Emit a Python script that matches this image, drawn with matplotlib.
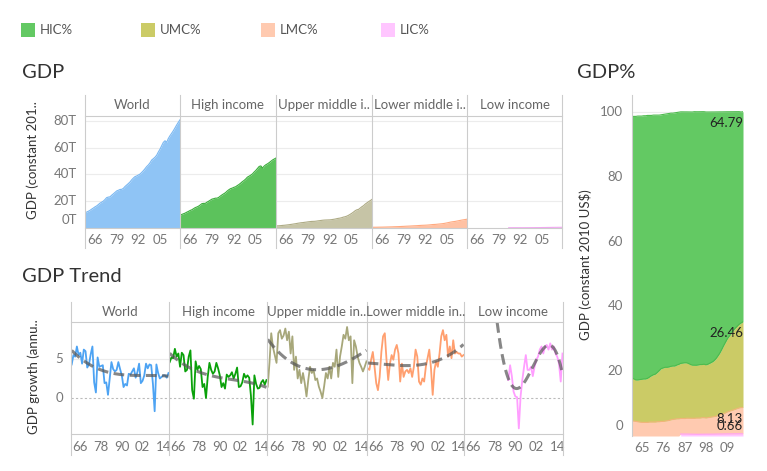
import numpy as np
import matplotlib
matplotlib.use('Agg')
import matplotlib.pyplot as plt
from matplotlib.lines import Line2D
from matplotlib.patches import Rectangle

plt.rcParams['font.family'] = ['Lato', 'DejaVu Sans']

W, H = 767, 471

# ---------------- data ----------------
years = np.arange(1960, 2018)
growth_years = np.arange(1961, 2018)
lic_growth_years = np.arange(1986, 2018)

top_headers = ['World', 'High income', 'Upper middle i..', 'Lower middle i..', 'Low income']
trend_headers = ['World', 'High income', 'Upper middle in..', 'Lower middle in..', 'Low income']

# GDP, constant 2010 US$, trillions (1960-2017)
world_gdp = [11.4, 11.9, 12.5, 13.2, 14.1, 14.9, 15.8, 16.5, 17.5, 18.6,
             19.3, 20.1, 21.3, 22.7, 23.1, 23.3, 24.5, 25.5, 26.6, 27.7,
             28.2, 28.8, 28.9, 29.6, 31.0, 32.1, 33.2, 34.4, 36.0, 37.3,
             38.4, 38.9, 39.6, 40.3, 41.5, 42.8, 44.3, 45.9, 47.1, 48.7,
             50.8, 51.8, 52.9, 54.4, 56.8, 58.9, 61.5, 64.0, 65.2, 64.1,
             66.9, 69.0, 70.8, 72.7, 74.8, 77.0, 79.0, 80.9]
hic_gdp = [9.7, 10.1, 10.6, 11.1, 11.8, 12.4, 13.1, 13.6, 14.4, 15.2,
           15.7, 16.3, 17.2, 18.2, 18.4, 18.4, 19.3, 20.0, 20.8, 21.6,
           21.9, 22.3, 22.3, 22.9, 23.9, 24.8, 25.6, 26.4, 27.6, 28.6,
           29.4, 29.8, 30.4, 30.8, 31.7, 32.5, 33.5, 34.6, 35.5, 36.6,
           38.0, 38.7, 39.5, 40.4, 41.8, 43.0, 44.5, 46.0, 46.4, 44.8,
           46.3, 47.3, 48.0, 48.9, 49.9, 50.9, 51.6, 52.3]
umc_gdp = [1.6, 1.6, 1.7, 1.8, 1.95, 2.05, 2.2, 2.35, 2.5, 2.7,
           2.9, 3.1, 3.3, 3.55, 3.75, 3.95, 4.05, 4.25, 4.4, 4.6,
           4.75, 4.9, 4.95, 5.0, 5.15, 5.35, 5.5, 5.7, 5.85, 5.95,
           6.0, 6.05, 6.1, 6.25, 6.45, 6.65, 6.95, 7.2, 7.4, 7.7,
           8.15, 8.4, 8.85, 9.45, 10.2, 11.0, 11.9, 12.9, 13.6, 13.9,
           14.9, 15.9, 16.7, 17.9, 18.8, 19.7, 20.5, 21.4]
lmc_gdp = [0.54, 0.55, 0.57, 0.59, 0.62, 0.64, 0.66, 0.69, 0.72, 0.76,
           0.80, 0.83, 0.86, 0.92, 0.96, 1.00, 1.05, 1.10, 1.17, 1.22,
           1.30, 1.36, 1.42, 1.48, 1.55, 1.62, 1.68, 1.74, 1.84, 1.92,
           2.00, 2.04, 2.10, 2.17, 2.27, 2.38, 2.52, 2.63, 2.69, 2.80,
           2.94, 3.06, 3.19, 3.36, 3.58, 3.83, 4.10, 4.38, 4.60, 4.77,
           4.95, 5.20, 5.45, 5.70, 5.95, 6.15, 6.35, 6.58]
# low income: no data before 1985
lic_gdp = [np.nan] * 25 + [
           0.20, 0.21, 0.21, 0.22, 0.22, 0.22, 0.22, 0.22, 0.21, 0.22,
           0.22, 0.23, 0.24, 0.25, 0.26, 0.27, 0.28, 0.29, 0.30, 0.32,
           0.34, 0.36, 0.38, 0.40, 0.42, 0.44, 0.46, 0.47, 0.49, 0.50,
           0.51, 0.52, 0.53]

# GDP growth (annual %)
world_growth = [4.3, 5.5, 5.3, 6.6, 5.5, 5.8, 4.4, 6.2, 6.0, 3.9,
                4.3, 5.6, 6.6, 2.0, 0.7, 5.2, 4.0, 4.1, 4.2, 1.9,
                2.0, 0.4, 2.5, 4.6, 3.7, 3.4, 3.6, 4.6, 3.7, 2.9,
                1.4, 1.8, 1.6, 3.1, 3.0, 3.4, 3.8, 2.6, 3.3, 4.4,
                1.9, 2.2, 2.9, 4.4, 3.8, 4.3, 4.2, 1.8, -1.7, 4.3,
                3.2, 2.5, 2.7, 2.9, 2.9, 2.6, 3.2]
hic_growth = [4.6, 5.2, 5.1, 6.3, 5.3, 5.7, 4.0, 5.8, 5.5, 3.4,
              3.6, 5.3, 6.1, 1.0, -0.1, 4.7, 3.6, 4.1, 3.7, 1.4,
              1.8, 0.0, 2.7, 4.5, 3.6, 3.1, 3.4, 4.5, 3.8, 2.9,
              1.4, 1.9, 1.2, 3.0, 2.7, 2.9, 3.3, 2.5, 3.1, 3.9,
              1.4, 1.5, 2.0, 3.1, 2.6, 2.9, 2.6, 0.3, -3.4, 2.9,
              1.8, 1.2, 1.3, 2.0, 2.3, 1.7, 2.3]
umc_growth = [1.45, 4.5, 8.3, 6.5, 5.5, 4.5, 8.3, 8.7, 7.6, 8.0,
              8.9, 7.4, 8.5, 5.7, 7.9, 3.6, 5.3, 2.5, 3.6, 1.9,
              3.2, 1.9, 0.2, 2.3, 4.0, 3.2, 3.6, 2.3, 2.5, 1.45,
              0.8, 0.0, 1.5, 3.2, 2.5, 4.0, 2.5, 4.5, 4.0, 6.2,
              2.7, 5.3, 6.6, 8.1, 7.6, 9.1, 7.4, 7.9, 1.9, 7.4,
              6.6, 5.3, 4.5, 4.0, 3.4, 4.0, 4.7]
lmc_growth = [3.8, 3.6, 4.9, 5.9, 4.0, 1.9, 1.0, 2.7, 5.9, 7.9,
              8.3, 4.9, 2.3, 4.4, 5.5, 4.9, 6.2, 6.8, 5.7, 2.1,
              4.4, 2.7, 3.4, 3.6, 3.2, 3.8, 2.7, 4.0, 6.2, 5.3,
              2.1, 1.7, 2.5, 2.1, 4.0, 5.1, 6.2, 3.8, 0.4, 3.6,
              4.7, 4.0, 5.7, 7.9, 8.7, 7.4, 8.1, 5.3, 6.6, 5.1,
              7.4, 5.7, 5.9, 5.7, 5.7, 5.3, 5.5]
lic_growth = [2.3, 4.2, 2.8, 0.8, 0.2, 0.1, -3.9, 0.2, 2.3, 4.0,
              5.5, 3.6, 3.6, 4.0, 2.8, 4.0, 4.9, 5.3, 6.2, 6.6,
              5.7, 6.6, 6.8, 6.2, 7.0, 6.2, 6.6, 5.7, 5.3, 4.4,
              2.1, 5.7]

# share of total GDP (%), 1960-2017
hic_share = [80.7, 81.0, 81.3, 81.4, 81.3, 81.2, 81.2, 81.2, 81.1, 80.7,
             80.3, 80.1, 79.9, 79.4, 78.8, 78.3, 78.2, 78.1, 78.2, 78.2,
             78.1, 78.0, 78.1, 77.9, 77.8, 77.6, 77.5, 77.4, 77.4, 77.6,
             77.9, 78.1, 78.2, 78.2, 78.1, 78.0, 78.0, 77.9, 78.0, 77.8,
             77.5, 77.2, 76.8, 76.2, 75.4, 74.5, 73.4, 72.2, 71.1, 70.0,
             69.2, 68.3, 67.5, 66.8, 66.2, 65.6, 65.1, 64.79]
umc_share = [13.2, 13.0, 12.8, 12.9, 13.1, 13.3, 13.4, 13.4, 13.6, 13.9,
             14.3, 14.6, 14.8, 15.2, 15.8, 16.3, 16.5, 16.6, 16.5, 16.5,
             16.5, 16.5, 16.4, 16.6, 16.8, 17.0, 17.1, 17.2, 17.1, 16.9,
             16.6, 16.4, 16.4, 16.3, 16.4, 16.5, 16.4, 16.5, 16.4, 16.5,
             16.7, 16.9, 17.2, 17.7, 18.3, 19.0, 19.9, 20.9, 21.8, 22.6,
             23.2, 23.9, 24.5, 25.0, 25.4, 25.8, 26.1, 26.46]
lmc_share = [4.7, 4.6, 4.5, 4.4, 4.3, 4.2, 4.2, 4.2, 4.2, 4.3,
             4.3, 4.3, 4.3, 4.4, 4.4, 4.5, 4.5, 4.6, 4.7, 4.8,
             5.0, 5.1, 5.2, 5.3, 5.3, 4.8, 4.8, 4.8, 4.9, 4.9,
             4.9, 4.9, 4.9, 5.0, 5.0, 5.0, 5.1, 5.1, 5.0, 5.1,
             5.2, 5.3, 5.4, 5.5, 5.7, 5.9, 6.1, 6.3, 6.5, 6.8,
             7.0, 7.2, 7.4, 7.6, 7.8, 8.0, 8.1, 8.13]
lic_share = [np.nan] * 25 + [
             0.60, 0.60, 0.59, 0.59, 0.58, 0.57, 0.56, 0.55, 0.53, 0.53,
             0.54, 0.55, 0.55, 0.56, 0.56, 0.56, 0.57, 0.57, 0.58, 0.59,
             0.60, 0.60, 0.61, 0.62, 0.63, 0.63, 0.64, 0.64, 0.65, 0.65,
             0.66, 0.66, 0.66]

share_names = ['HIC%', 'UMC%', 'LMC%', 'LIC%']
share_colors = ['#63c963', '#cbcb66', '#ffcab0', '#ffc6ff']

area_fill = ['#8fc4f5', '#5cc25c', '#c6c4a6', '#ffc1a3', '#f9c6f9']
area_edge = ['#7ab8f2', '#3cae3c', '#aeab85', '#ffaa80', '#f2a6f2']
trend_colors = ['#4da3f3', '#0aa10a', '#a7a77a', '#ff9f6f', '#ff9eff']

LINE = '#cccccc'
TICK = '#777777'
HEAD = '#666666'


# ---------------- helpers ----------------
def rect(x0, y0, x1, y1):
    return [x0 / W, 1 - y1 / H, (x1 - x0) / W, (y1 - y0) / H]


def fline(xs, ys, **kw):
    fig.add_artist(Line2D([x / W for x in xs], [1 - y / H for y in ys],
                          transform=fig.transFigure, **kw))


def ftext(x, y, s, **kw):
    fig.text(x / W, 1 - y / H, s, **kw)


def clean(ax):
    for s in ax.spines.values():
        s.set_visible(False)
    ax.set_facecolor('none')
    ax.set_yticks([])
    ax.tick_params(axis='both', length=0)


def ylabels(ax, vals, labels, dx, zero_shift=0):
    for v, l in zip(vals, labels):
        dy = zero_shift if v == 0 else 0
        ax.annotate(l, xy=(0, v), xycoords=('axes fraction', 'data'),
                    xytext=(-dx * 0.72, dy * 0.72), textcoords='offset points',
                    ha='right', va='center', fontsize=9.5, color=TICK,
                    annotation_clip=False)


fig = plt.figure(figsize=(W / 100, H / 100), dpi=100)

# ---------------- legend ----------------
for i, (name, c) in enumerate(zip(share_names, share_colors)):
    x = 21 + 120 * i
    fig.add_artist(Rectangle((x / W, 1 - 37 / H), 14 / W, 14 / H,
                             transform=fig.transFigure, color=c, lw=0))
    ftext(x + 19, 30, name, fontsize=9.5, color='#555555', va='center')

# ---------------- GDP (top) ----------------
ftext(22, 72, 'GDP', fontsize=14.5, color='#333333', va='center')
ftext(33, 160, 'GDP (constant 201..', fontsize=9.5, color='#333333',
      rotation=90, ha='center', va='center')

top_x = [85, 180, 276, 372, 467, 562]
gdp_series = [world_gdp, hic_gdp, umc_gdp, lmc_gdp, lic_gdp]
for i, vals in enumerate(gdp_series):
    ax = fig.add_axes(rect(top_x[i], 116, top_x[i + 1], 228))
    clean(ax)
    vals = np.array(vals, dtype=float)
    for g in [20, 40, 60, 80]:
        ax.axhline(g, color='#ececec', lw=0.8, zorder=0)
    ax.fill_between(years, vals, color=area_fill[i], lw=0)
    ax.plot(years, vals, color=area_edge[i], lw=0.8)
    ax.set_xlim(1960, 2017)
    ax.set_ylim(0, 83.7)
    ax.set_xticks([1966, 1979, 1992, 2005], ['66', '79', '92', '05'])
    ax.tick_params(axis='x', labelsize=9.5, labelcolor=TICK, pad=4)
    if i == 0:
        ylabels(ax, [0, 20, 40, 60, 80], ['0T', '20T', '40T', '60T', '80T'], 8, zero_shift=8)
    ftext((top_x[i] + top_x[i + 1]) / 2, 105, top_headers[i], fontsize=9.5,
          color=HEAD, ha='center', va='center')

for x in top_x:
    fline([x, x], [95, 248], color=LINE, lw=0.8)
fline([85, 562], [116, 116], color=LINE, lw=0.8)
fline([85, 562], [228, 228], color=LINE, lw=0.8)

# ---------------- GDP Trend ----------------
ftext(22, 277, 'GDP Trend', fontsize=14.5, color='#333333', va='center')
ftext(34, 377, 'GDP growth (annu..', fontsize=9.5, color='#333333',
      rotation=90, ha='center', va='center')

trend_x = [71, 169, 267, 367, 464, 563]
growth_series = [(growth_years, world_growth), (growth_years, hic_growth),
                 (growth_years, umc_growth), (growth_years, lmc_growth),
                 (lic_growth_years, lic_growth)]
for i, (yrs, vals) in enumerate(growth_series):
    ax = fig.add_axes(rect(trend_x[i], 322, trend_x[i + 1], 434))
    clean(ax)
    vals = np.array(vals, dtype=float)
    ax.axhline(5, color='#ececec', lw=0.8, zorder=0)
    ax.axhline(0, color='#bbbbbb', lw=0.8, ls=(0, (2, 2)), zorder=0)
    ax.plot(yrs, vals, color=trend_colors[i], lw=1.3)
    # polynomial trend line
    coef = np.polyfit(yrs - 1990, vals, 3)
    xt = np.linspace(1975 if i == 4 else 1961, 2017, 200)
    ax.plot(xt, np.polyval(coef, xt - 1990), color='#555555', alpha=0.7,
            lw=2.2, ls=(0, (3.5, 1.8)), dash_capstyle='butt')
    ax.set_xlim(1960.6, 2017.3)
    ax.set_ylim(-4.62, 9.74)
    ax.set_xticks([1966, 1978, 1990, 2002, 2014], ['66', '78', '90', '02', '14'])
    ax.tick_params(axis='x', labelsize=9.5, labelcolor=TICK, pad=5)
    if i == 0:
        ylabels(ax, [0, 5], ['0', '5'], 8)
    ftext((trend_x[i] + trend_x[i + 1]) / 2, 312, trend_headers[i], fontsize=9.5,
          color=HEAD, ha='center', va='center')

for x in trend_x:
    fline([x, x], [302, 455], color=LINE, lw=0.8)
fline([71, 563], [322, 322], color=LINE, lw=0.8)
fline([71, 563], [434, 434], color=LINE, lw=0.8)

# ---------------- GDP% ----------------
ftext(577, 72, 'GDP%', fontsize=14.5, color='#333333', va='center')
ftext(586, 265, 'GDP (constant 2010 US$)', fontsize=9.5, color='#333333',
      rotation=90, ha='center', va='center')

ax = fig.add_axes(rect(632, 95, 743, 436))
clean(ax)
for g in [20, 40, 60, 80, 100]:
    ax.axhline(g, color='#ececec', lw=0.8, zorder=0)

lic = np.array(lic_share, dtype=float)
c1 = np.nan_to_num(lic)
c2 = c1 + np.array(lmc_share)
c3 = c2 + np.array(umc_share)
c4 = c3 + np.array(hic_share)
ax.fill_between(years, 0, lic, color=share_colors[3], lw=0)
ax.plot(years, lic, color='#ff9eff', lw=0.8)
ax.fill_between(years, c1, c2, color=share_colors[2], lw=0)
ax.plot(years, c2, color='#f2b47a', lw=0.8)
ax.fill_between(years, c2, c3, color=share_colors[1], lw=0)
ax.plot(years, c3, color='#4dbb4d', lw=0.8)
ax.fill_between(years, c3, c4, color=share_colors[0], lw=0)
ax.plot(years, c4, color='#4dbb4d', lw=0.8)

# end-of-series labels (the two small ones overlap in the original too)
ends = [(c4[-1], hic_share[-1], -5, 'top'), (c3[-1], umc_share[-1], -5, 'top'),
        (c2[-1], lmc_share[-1], -5, 'top'), (c1[-1], lic_share[-1], 8, 'center')]
for ytop, val, dy, va in ends:
    ax.annotate(f'{val:.2f}', xy=(2017, ytop), xytext=(0, dy * 0.72),
                textcoords='offset points', ha='right', va=va,
                fontsize=9.5, color='#222222', annotation_clip=False)

ax.set_xlim(1960, 2017)
ax.set_ylim(0, 105.2)
ax.set_xticks([1965, 1976, 1987, 1998, 2009], ['65', '76', '87', '98', '09'])
ax.tick_params(axis='x', labelsize=9.5, labelcolor=TICK, pad=4)
ylabels(ax, [0, 20, 40, 60, 80, 100], ['0', '20', '40', '60', '80', '100'], 9, zero_shift=10)
fline([632, 632], [95, 436], color=LINE, lw=0.8)

fig.savefig('out.png', dpi=100)
